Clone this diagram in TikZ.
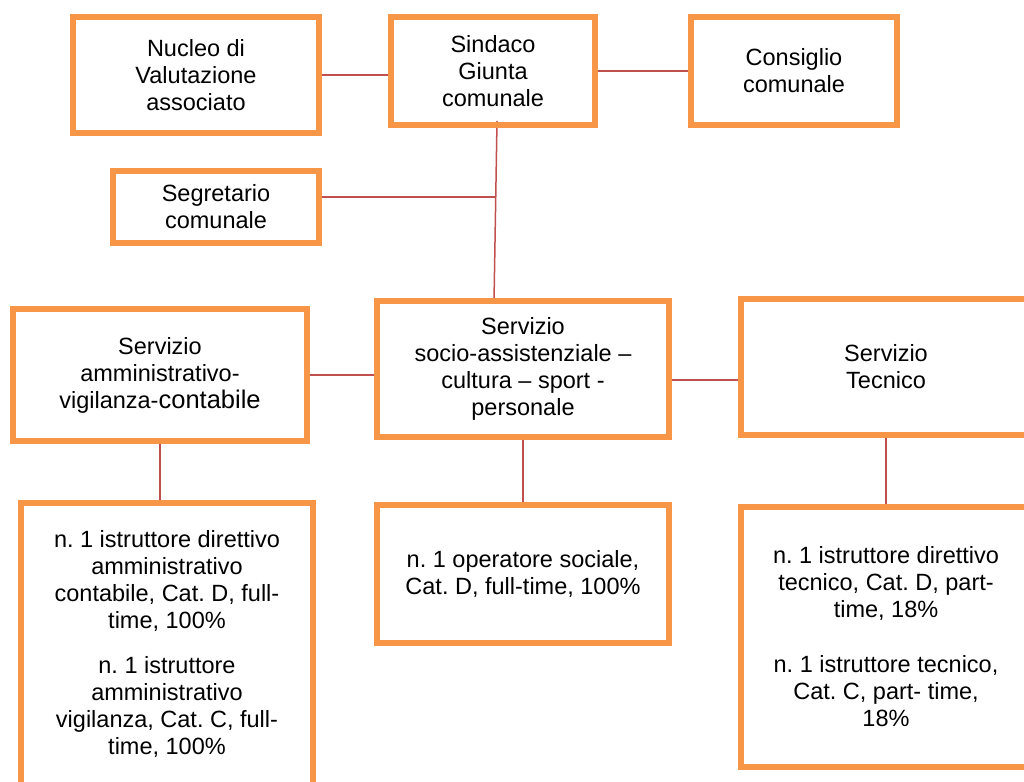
\documentclass[tikz,border=0pt]{standalone}
\usepackage{fontspec}
\setmainfont{Liberation Sans}
\usetikzlibrary{backgrounds}
\definecolor{boxorange}{HTML}{F79646}
\definecolor{linkred}{HTML}{C0504D}
\frenchspacing

\begin{document}
\begin{tikzpicture}[x=1pt,y=-1pt,
    ufficio/.style={draw=boxorange,line width=6pt,align=center,
        font=\fontsize{23.5}{27}\selectfont,inner sep=0pt},
    link/.style={draw=linkred,line width=1.5pt}]
    \useasboundingbox (0,0) rectangle (1024,781);
    \clip (0,0) rectangle (1024,781);

    % organi
    \node[ufficio,minimum width=246pt,minimum height=116pt] (nucleo) at (196,75) {Nucleo di\\Valutazione\\associato};
    \node[ufficio,minimum width=204pt,minimum height=108pt] (sindaco) at (493,71) {Sindaco\\Giunta\\comunale};
    \node[ufficio,minimum width=206pt,minimum height=108pt] (consiglio) at (794,71) {Consiglio\\comunale};
    \node[ufficio,minimum width=206pt,minimum height=72pt] (segretario) at (216,207) {Segretario\\comunale};

    % servizi
    \node[ufficio,minimum width=294pt,minimum height=132pt] (servamm) at (160,375) {Servizio\\amministrativo-\\vigilanza-{\fontsize{25.5}{27}\selectfont contabile}};
    \node[ufficio,minimum width=292pt,minimum height=136pt] (servsocio) at (523,369) {Servizio\\socio-assistenziale --\\cultura -- sport -\\personale};
    \node[ufficio,minimum width=290pt,minimum height=136pt] (servtec) at (886,367) {Servizio\\Tecnico};

    % personale
    \node[ufficio,minimum width=292pt,minimum height=282pt] (persamm) at (167,644) {n. 1 istruttore direttivo\\amministrativo\\contabile, Cat. D, full-\\time, 100\%\\[18pt]n. 1 istruttore\\amministrativo\\vigilanza, Cat. C, full-\\time, 100\%};
    \node[ufficio,minimum width=292pt,minimum height=138pt] (perssocio) at (523,574) {n. 1 operatore sociale,\\Cat. D, full-time, 100\%};
    \node[ufficio,minimum width=290pt,minimum height=260pt] (perstec) at (886,637) {n. 1 istruttore direttivo\\tecnico, Cat. D, part-\\time, 18\%\\[28pt]n. 1 istruttore tecnico,\\Cat. C, part- time,\\18\%};

    \coordinate (giunta) at (497,121);
    \coordinate (nodo) at (496,197);
    \coordinate (socioin) at (494,302);

    \begin{pgfonlayer}{background}
    \draw[link] (nucleo.east) -- (nucleo.east -| sindaco.west);
    \draw[link] (sindaco.east) -- (consiglio.west);
    \draw[link] (giunta) -- (socioin);
    \draw[link] (segretario.east |- nodo) -- (nodo);
    \draw[link] (servamm.east) -- (servamm.east -| servsocio.west);
    \draw[link] ([yshift=-11pt]servsocio.east) -- ([yshift=-11pt]servsocio.east -| servtec.west);
    \draw[link] (servamm.south) -- (servamm.south |- persamm.north);
    \draw[link] (servsocio.south) -- (perssocio.north);
    \draw[link] (servtec.south) -- (perstec.north);
    \end{pgfonlayer}
\end{tikzpicture}
\end{document}
